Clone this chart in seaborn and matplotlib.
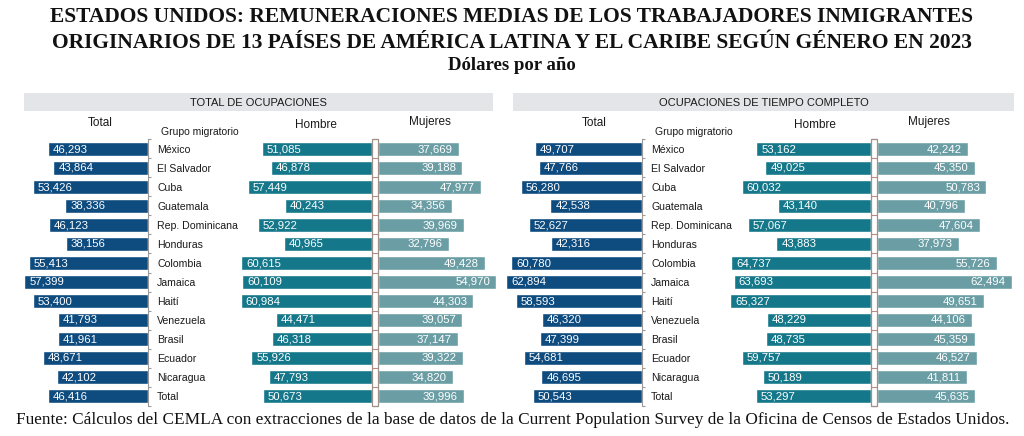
import matplotlib
matplotlib.use("Agg")
import matplotlib.pyplot as plt
from matplotlib.patches import Rectangle
import numpy as np
import pandas as pd
import seaborn as sns

paises = ["México", "El Salvador", "Cuba", "Guatemala", "Rep. Dominicana", "Honduras",
          "Colombia", "Jamaica", "Haití", "Venezuela", "Brasil", "Ecuador", "Nicaragua", "Total"]

# total de ocupaciones
tot_total = [46293, 43864, 53426, 38336, 46123, 38156, 55413, 57399, 53400, 41793, 41961, 48671, 42102, 46416]
tot_hombre = [51085, 46878, 57449, 40243, 52922, 40965, 60615, 60109, 60984, 44471, 46318, 55926, 47793, 50673]
tot_mujeres = [37669, 39188, 47977, 34356, 39969, 32796, 49428, 54970, 44303, 39057, 37147, 39322, 34820, 39996]

# ocupaciones de tiempo completo
tc_total = [49707, 47766, 56280, 42538, 52627, 42316, 60780, 62894, 58593, 46320, 47399, 54681, 46695, 50543]
tc_hombre = [53162, 49025, 60032, 43140, 57067, 43883, 64737, 63693, 65327, 48229, 48735, 59757, 50189, 53297]
tc_mujeres = [42242, 45350, 50783, 40796, 47604, 37973, 55726, 62494, 49651, 44106, 45359, 46527, 41811, 45635]

C_TOTAL = "#0e4b7f"
C_HOMBRE = "#15788a"
C_MUJERES = "#6b9ea4"
SANS = ["Liberation Sans", "DejaVu Sans"]
SERIF = ["Liberation Serif", "DejaVu Serif"]

sns.set_style("white")
plt.rcParams["font.family"] = SANS

W, H = 1024, 436
PX = 0.002155          # pixels per dollar
ROW_TOP, ROW_BOT = 139.5, 405.5

fig = plt.figure(figsize=(W / 100, H / 100), dpi=100)


def px_axes(x0, x1):
    return fig.add_axes([x0 / W, 1 - ROW_BOT / H, (x1 - x0) / W, (ROW_BOT - ROW_TOP) / H])


def bars(x0, x1, values, color, leftward):
    ax = px_axes(x0, x1)
    df = pd.DataFrame({"pais": paises, "valor": values})
    sns.barplot(data=df, x="valor", y="pais", ax=ax, color=color, width=0.75,
                saturation=1, errorbar=None)
    span = (x1 - x0) / PX
    ax.set_xlim((span, 0) if leftward else (0, span))
    ax.set_ylim(len(paises) - 0.5, -0.5)
    ax.set_xlabel("")
    ax.set_ylabel("")
    ax.set_xticks([])
    ax.set_yticks([])
    for s in ax.spines.values():
        s.set_visible(False)
    ax.patch.set_alpha(0)
    for i, v in enumerate(values):
        if leftward:
            ax.annotate(f"{v:,}", (v, i), xytext=(3.5, 0), textcoords="offset points",
                        ha="left", va="center", color="white", fontsize=8.2)
        else:
            ax.annotate(f"{v:,}", (v, i), xytext=(-4.5, 0), textcoords="offset points",
                        ha="right", va="center", color="white", fontsize=8.2)
    return ax


def panel(xs, total, hombre, mujeres, titulo):
    (t0, t1), (h0, h1), (m0, m1), band = xs
    ax_t = bars(t0, t1, total, C_TOTAL, True)
    ax_h = bars(h0, h1, hombre, C_HOMBRE, True)
    bars(m0, m1, mujeres, C_MUJERES, False)

    # total axis: spine, brackets and country names
    ax_t.spines["right"].set_visible(True)
    ax_t.spines["right"].set_color("#9a9a9a")
    ax_t.spines["right"].set_linewidth(0.8)
    ax_t.yaxis.tick_right()
    ax_t.set_yticks(range(len(paises)))
    ax_t.set_yticklabels(paises)
    ax_t.set_yticks(np.arange(-0.5, len(paises)), minor=True)
    ax_t.tick_params(axis="y", which="major", length=0, pad=6.5, labelsize=7.6, labelcolor="#1a1a1a")
    ax_t.tick_params(axis="y", which="minor", length=2.5, width=0.8, color="#9a9a9a")

    # divider box between hombre and mujeres
    ax_h.set_yticks(np.arange(-0.5, len(paises)), minor=True)
    ax_h.yaxis.tick_right()
    ax_h.tick_params(axis="y", which="minor", length=4, width=0.8, color="#b98a84")
    fig.add_artist(Rectangle((h1 / W, 1 - ROW_BOT / H), 5.5 / W, (ROW_BOT - ROW_TOP) / H,
                             transform=fig.transFigure, facecolor="none",
                             edgecolor="#9e918a", linewidth=0.9))

    # header band
    b0, b1 = band
    fig.add_artist(Rectangle((b0 / W, 1 - 111 / H), (b1 - b0) / W, 18 / H,
                             transform=fig.transFigure, facecolor="#e3e5e8", edgecolor="none"))
    fig.text((b0 + b1) / 2 / W, 1 - 102.5 / H, titulo, ha="center", va="center",
             fontsize=8, color="#1a1a1a")

    # column headers
    fig.text((t1 - 48) / W, 1 - 123 / H, "Total", ha="center", va="center", fontsize=8.5, color="#1a1a1a")
    fig.text((h1 - 56) / W, 1 - 124.5 / H, "Hombre", ha="center", va="center", fontsize=8.5, color="#1a1a1a")
    fig.text((h1 + 58) / W, 1 - 122.5 / H, "Mujeres", ha="center", va="center", fontsize=8.5, color="#1a1a1a")
    fig.text((t1 + 13) / W, 1 - 132 / H, "Grupo migratorio", ha="left", va="center", fontsize=7.5, color="#1a1a1a")


panel([(18, 148), (230, 372), (378, 505), (24, 493)],
      tot_total, tot_hombre, tot_mujeres, "TOTAL DE OCUPACIONES")
panel([(500, 642), (700, 871), (877, 1020), (513, 1014)],
      tc_total, tc_hombre, tc_mujeres, "OCUPACIONES DE TIEMPO COMPLETO")

fig.text(0.5, 1 - 17 / H, "ESTADOS UNIDOS: REMUNERACIONES MEDIAS DE LOS TRABAJADORES INMIGRANTES",
         ha="center", va="center", family=SERIF, fontsize=15.5, fontweight="bold", color="#111111")
fig.text(0.5, 1 - 42.5 / H, "ORIGINARIOS DE 13 PAÍSES DE AMÉRICA LATINA Y EL CARIBE SEGÚN GÉNERO EN 2023",
         ha="center", va="center", family=SERIF, fontsize=15.5, fontweight="bold", color="#111111")
fig.text(0.5, 1 - 66 / H, "Dólares por año", ha="center", va="center", family=SERIF,
         fontsize=13.5, fontweight="bold", color="#111111")
fig.text(513 / W, 1 - 420 / H,
         "Fuente: Cálculos del CEMLA con extracciones de la base de datos de la Current Population Survey "
         "de la Oficina de Censos de Estados Unidos.",
         ha="center", va="center", family=SERIF, fontsize=12.4, color="#111111")

fig.savefig("out.png", dpi=100)
